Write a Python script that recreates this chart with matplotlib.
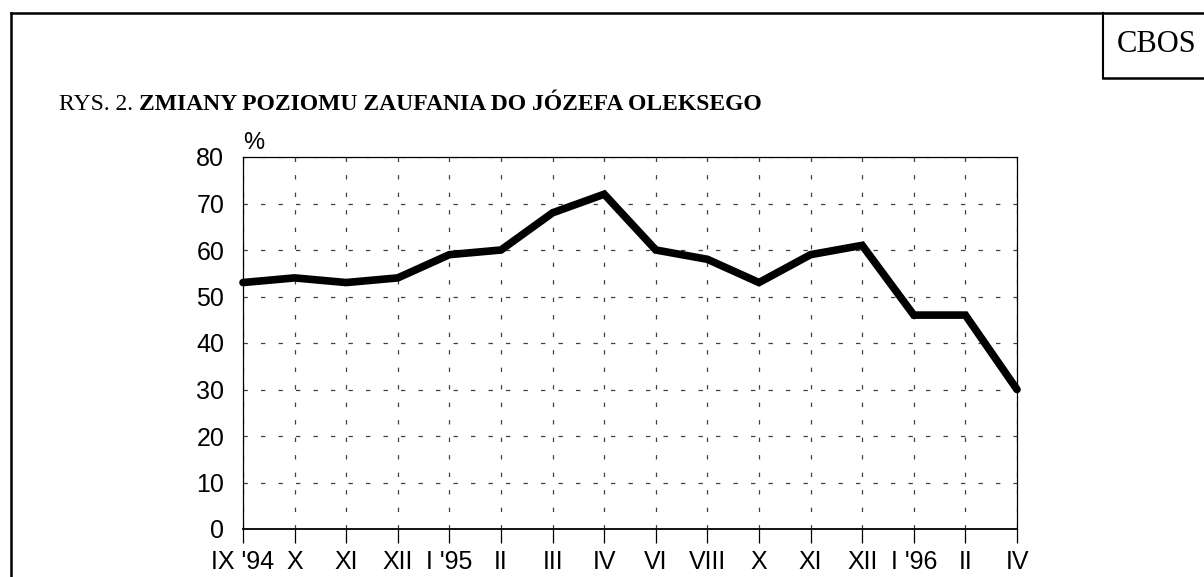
import matplotlib
matplotlib.use("Agg")
import matplotlib.pyplot as plt
from matplotlib.lines import Line2D

months = ["IX '94", "X", "XI", "XII", "I '95", "II", "III", "IV", "VI", "VIII",
          "X", "XI", "XII", "I '96", "II", "IV"]
trust = [53, 54, 53, 54, 59, 60, 68, 72, 60, 58, 53, 59, 61, 46, 46, 30]
yticks = [0, 10, 20, 30, 40, 50, 60, 70, 80]

W, H = 1204, 577
fig = plt.figure(figsize=(W / 100, H / 100), dpi=100)
fig.patch.set_facecolor("white")

# outer frame lines
fig.add_artist(Line2D([11 / W, 1], [1 - 13 / H, 1 - 13 / H], color="black", lw=1.8, transform=fig.transFigure))
fig.add_artist(Line2D([11 / W, 11 / W], [0, 1 - 13 / H], color="black", lw=1.8, transform=fig.transFigure))
# CBOS box
fig.add_artist(Line2D([1103 / W, 1103 / W], [1 - 13 / H, 1 - 78 / H], color="black", lw=1.5, transform=fig.transFigure))
fig.add_artist(Line2D([1103 / W, 1], [1 - 78 / H, 1 - 78 / H], color="black", lw=1.8, transform=fig.transFigure))
fig.text(1157 / W, 1 - 45 / H, "CBOS", ha="center", va="center", fontsize=22,
         family="Liberation Serif")

# title
t1 = fig.text(59 / W, 1 - 104 / H, "RYS. 2. ", ha="left", va="center", fontsize=17,
              family="Liberation Serif")
fig.canvas.draw()
bb = t1.get_window_extent(renderer=fig.canvas.get_renderer())
fig.text(bb.x1 / W, 1 - 104 / H, "ZMIANY POZIOMU ZAUFANIA DO JÓZEFA OLEKSEGO", ha="left",
         va="center", fontsize=17, family="Liberation Serif", fontweight="bold")

left, right, top, bottom = 243, 1017, 157, 529
ax = fig.add_axes([left / W, 1 - bottom / H, (right - left) / W, (bottom - top) / H])
x = list(range(len(months)))
ax.plot(x, trust, color="black", lw=5.5, solid_joinstyle="miter", solid_capstyle="round",
        zorder=5, clip_on=False)
ax.set_xlim(0, len(months) - 1)
ax.set_ylim(0, 80)
ax.set_xticks(x)
ax.set_xticklabels(months, family="Liberation Sans", fontsize=18)
ax.set_yticks(yticks)
ax.set_yticklabels([str(v) for v in yticks], family="Liberation Sans", fontsize=18)
ax.tick_params(axis="x", direction="out", length=10, width=0.9, pad=5)
ax.tick_params(axis="y", length=0, pad=13.5)
ax.grid(True, color="#404040", lw=0.9, linestyle=(0, (3.5, 10.5)))
ax.set_axisbelow(True)
for s in ax.spines.values():
    s.set_linewidth(0.9)
ax.spines["bottom"].set_linewidth(1.3)
ax.text(0.0, 1.008, "%", transform=ax.transAxes, ha="left", va="bottom", fontsize=17,
        family="Liberation Sans")

fig.savefig("out.png", dpi=100, facecolor="white")
